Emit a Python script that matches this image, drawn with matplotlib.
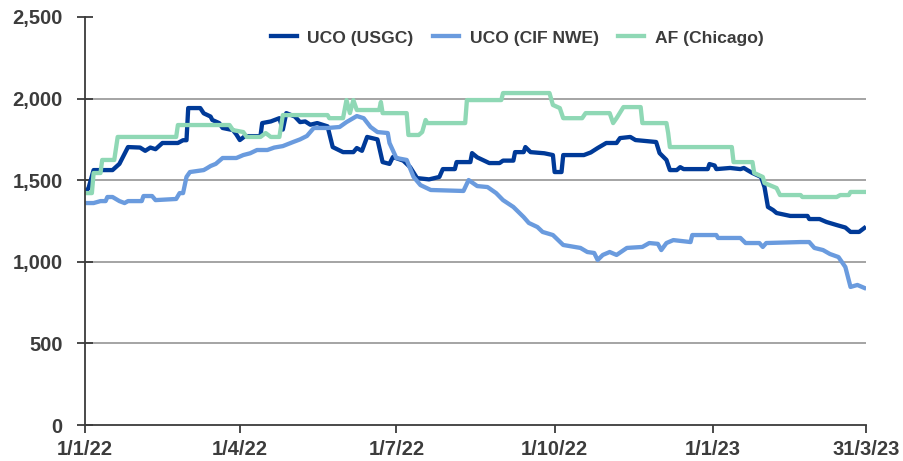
import pandas as pd
import matplotlib
matplotlib.use('Agg')
import matplotlib.pyplot as plt

plt.rcParams['font.family'] = ['Liberation Sans', 'DejaVu Sans']
plt.rcParams['font.weight'] = 'bold'

start = pd.Timestamp('2022-01-01')

# days since 1/1/22 and prices
usgc_days = [0, 2, 5, 16, 20, 25, 32, 35, 38, 41, 45, 54, 57, 59, 60, 67, 69, 73, 74, 78,
             80, 86, 88, 90, 93, 102, 103, 108, 113, 115, 117, 122, 125, 128, 131, 135, 141, 144, 150, 156,
             158, 161, 164, 170, 173, 177, 179, 185, 189, 193, 200, 206, 208, 215, 216, 224, 225, 228, 235, 241,
             243, 249, 250, 255, 256, 259, 267, 272, 273, 277, 278, 290, 294, 298, 303, 309, 311, 317, 320, 332,
             334, 338, 340, 344, 346, 348, 362, 363, 366, 367, 375, 381, 383, 385, 388, 393, 395, 397, 400, 402,
             410, 420, 421, 427, 431, 437, 442, 445, 450, 453]
usgc_vals = [1430, 1450, 1562, 1562, 1600, 1703, 1700, 1680, 1700, 1690, 1728, 1728, 1745, 1745, 1942, 1942, 1910, 1890, 1869, 1850,
             1820, 1807, 1780, 1746, 1770, 1770, 1850, 1860, 1880, 1810, 1911, 1890, 1856, 1860, 1840, 1850, 1830, 1703, 1672, 1672,
             1697, 1680, 1765, 1750, 1611, 1600, 1642, 1620, 1580, 1513, 1505, 1520, 1568, 1568, 1611, 1611, 1666, 1640, 1605, 1605,
             1620, 1620, 1672, 1672, 1703, 1672, 1665, 1654, 1550, 1550, 1654, 1654, 1670, 1697, 1728, 1728, 1758, 1765, 1746, 1734,
             1666, 1624, 1562, 1562, 1580, 1568, 1568, 1599, 1590, 1568, 1575, 1568, 1575, 1562, 1544, 1520, 1458, 1336, 1317, 1299,
             1281, 1281, 1262, 1262, 1244, 1225, 1210, 1183, 1183, 1207]

nwe_days = [0, 5, 9, 12, 13, 16, 20, 23, 25, 33, 34, 39, 41, 53, 55, 57, 59, 61, 69, 71,
            73, 76, 80, 88, 92, 96, 100, 106, 110, 115, 121, 125, 129, 133, 141, 148, 152, 158, 162, 166,
            170, 176, 177, 181, 187, 191, 195, 201, 220, 223, 228, 234, 239, 243, 249, 252, 255, 258, 263, 266,
            272, 278, 288, 292, 296, 298, 301, 305, 309, 315, 324, 328, 333, 335, 338, 342, 352, 353, 367, 368,
            381, 384, 392, 394, 396, 416, 421, 424, 429, 433, 438, 442, 445, 449, 453]
nwe_vals = [1360, 1360, 1372, 1372, 1397, 1397, 1372, 1360, 1372, 1372, 1403, 1403, 1378, 1385, 1421, 1421, 1520, 1550, 1562, 1574,
            1587, 1600, 1636, 1636, 1654, 1665, 1685, 1685, 1700, 1709, 1734, 1750, 1771, 1820, 1820, 1826, 1856, 1893, 1880, 1826,
            1795, 1789, 1728, 1636, 1624, 1520, 1470, 1440, 1434, 1501, 1464, 1458, 1421, 1378, 1336, 1305, 1274, 1238, 1213, 1183,
            1164, 1103, 1085, 1060, 1054, 1011, 1042, 1060, 1042, 1085, 1091, 1115, 1110, 1072, 1115, 1133, 1121, 1164, 1164, 1146,
            1146, 1115, 1115, 1091, 1115, 1121, 1121, 1085, 1072, 1048, 1029, 968, 846, 858, 840]

af_days = [0, 4, 5, 9, 10, 17, 19, 53, 54, 84, 86, 92, 94, 102, 105, 108, 113, 115, 141, 142,
           150, 152, 154, 156, 158, 171, 172, 173, 187, 188, 194, 196, 198, 199, 221, 222, 242, 243, 270, 272,
           276, 278, 289, 291, 305, 307, 309, 313, 323, 324, 338, 339, 340, 376, 377, 388, 389, 394, 395, 402,
           404, 416, 417, 437, 439, 444, 445, 453]
af_vals = [1421, 1421, 1544, 1544, 1624, 1624, 1765, 1765, 1838, 1838, 1807, 1795, 1765, 1765, 1789, 1765, 1765, 1899, 1899, 1880,
           1880, 1991, 1911, 1991, 1930, 1930, 1979, 1911, 1911, 1777, 1777, 1795, 1869, 1850, 1850, 1991, 1991, 2034, 2034, 1961,
           1942, 1880, 1880, 1911, 1911, 1850, 1880, 1948, 1948, 1850, 1850, 1789, 1703, 1703, 1611, 1611, 1544, 1520, 1483, 1452,
           1409, 1409, 1397, 1397, 1409, 1409, 1428, 1428]

tick_dates = ['2022-01-01', '2022-04-01', '2022-07-01', '2022-10-01', '2023-01-01', '2023-03-31']
tick_labels = ['1/1/22', '1/4/22', '1/7/22', '1/10/22', '1/1/23', '31/3/23']
y_ticks = [0, 500, 1000, 1500, 2000, 2500]

series = [
    ('UCO (USGC)', usgc_days, usgc_vals, '#003A98'),
    ('UCO (CIF NWE)', nwe_days, nwe_vals, '#6A9BDE'),
    ('AF (Chicago)', af_days, af_vals, '#8FD8B5'),
]

text_col = '#3c3c3c'

fig = plt.figure(figsize=(9.04, 4.61), dpi=100)
ax = fig.add_axes([85 / 904, 36 / 461, 781 / 904, 408 / 461])

for name, days, vals, col in series:
    x = start + pd.to_timedelta(days, unit='D')
    ax.plot(x, vals, color=col, lw=3.1, label=name)

ax.set_xlim(pd.Timestamp(tick_dates[0]), pd.Timestamp(tick_dates[-1]))
ax.set_ylim(0, 2500)
ax.set_xticks(pd.to_datetime(tick_dates))
ax.set_xticklabels(tick_labels)
ax.set_yticks(y_ticks)
ax.set_yticklabels([f'{v:,}' for v in y_ticks])

for v in y_ticks[1:-1]:
    ax.axhline(v, color='#8c8c8c', lw=1.1, zorder=0)

for s in ['top', 'right']:
    ax.spines[s].set_visible(False)
for s in ['left', 'bottom']:
    ax.spines[s].set_color(text_col)
    ax.spines[s].set_linewidth(1.3)

ax.tick_params(axis='y', direction='inout', length=12, width=1.3, color=text_col,
               labelsize=14.5, labelcolor=text_col, pad=10)
ax.tick_params(axis='x', direction='out', length=6, width=1.3, color=text_col,
               labelsize=14.5, labelcolor=text_col, pad=5)
for lab in ax.get_xticklabels() + ax.get_yticklabels():
    lab.set_fontweight('bold')

fig.legend(loc='center', bbox_to_anchor=(517 / 904, 1 - 38 / 461), ncol=3, frameon=False,
           handlelength=1.5, handletextpad=0.6, columnspacing=1.1,
           labelcolor=text_col, prop={'weight': 'bold', 'size': 12.6})

fig.savefig('out.png', dpi=100)
